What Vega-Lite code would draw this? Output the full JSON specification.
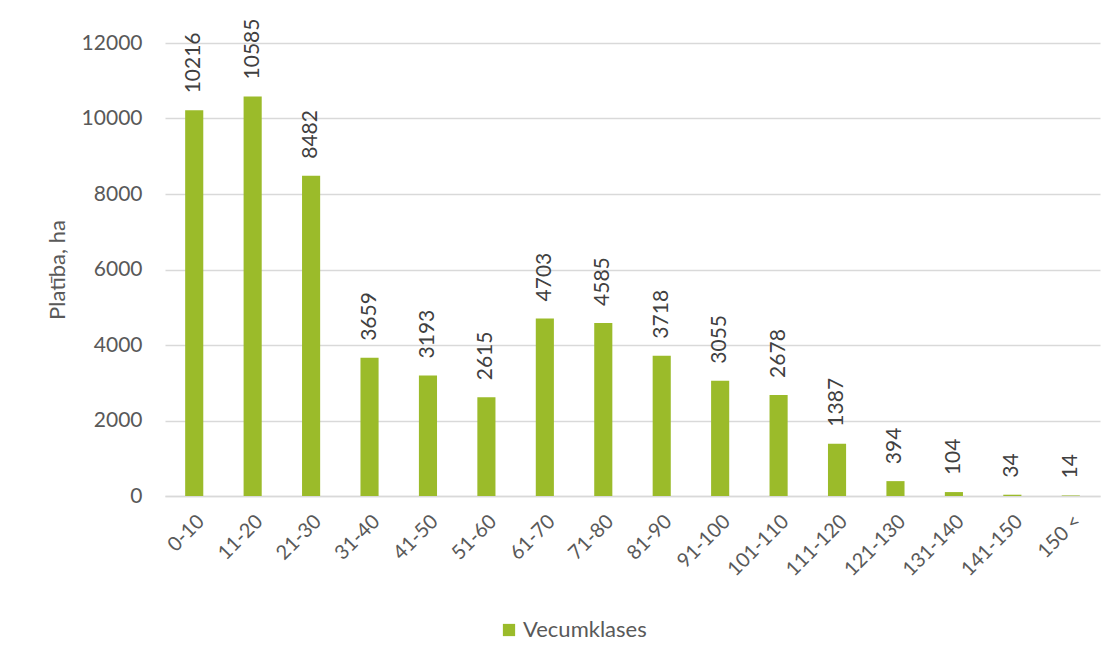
{
  "$schema": "https://vega.github.io/schema/vega-lite/v6.json",
  "autosize": {"type": "none"},
  "padding": {"left": 165, "top": 43, "right": 18, "bottom": 163},
  "width": 935,
  "height": 453,
  "background": "white",
  "config": {
    "font": "Lato",
    "view": {"stroke": null},
    "axis": {"labelColor": "#595959", "titleColor": "#595959", "labelFont": "Lato", "titleFont": "Lato"}
  },
  "data": {
    "values": [
      {"klase": "0-10", "platiba": 10216},
      {"klase": "11-20", "platiba": 10585},
      {"klase": "21-30", "platiba": 8482},
      {"klase": "31-40", "platiba": 3659},
      {"klase": "41-50", "platiba": 3193},
      {"klase": "51-60", "platiba": 2615},
      {"klase": "61-70", "platiba": 4703},
      {"klase": "71-80", "platiba": 4585},
      {"klase": "81-90", "platiba": 3718},
      {"klase": "91-100", "platiba": 3055},
      {"klase": "101-110", "platiba": 2678},
      {"klase": "111-120", "platiba": 1387},
      {"klase": "121-130", "platiba": 394},
      {"klase": "131-140", "platiba": 104},
      {"klase": "141-150", "platiba": 34},
      {"klase": "150 <", "platiba": 14}
    ]
  },
  "encoding": {
    "x": {
      "field": "klase", "type": "nominal", "sort": null,
      "scale": {"paddingInner": 0.69, "paddingOuter": 0.345},
      "axis": {
        "title": null, "labelAngle": -45, "labelFontSize": 20, "labelPadding": 15,
        "ticks": false, "domainColor": "#D9D9D9", "domainWidth": 1.5, "grid": false
      }
    },
    "y": {
      "field": "platiba", "type": "quantitative",
      "scale": {"domain": [0, 12000], "nice": false},
      "axis": {
        "title": "Platība, ha", "titleFontSize": 22, "titleFontWeight": "normal",
        "titlePadding": 12, "labelFontSize": 21, "labelPadding": 23, "format": "d",
        "values": [0, 2000, 4000, 6000, 8000, 10000, 12000],
        "ticks": false, "domain": false, "gridColor": "#D9D9D9", "gridWidth": 1.3
      }
    }
  },
  "layer": [
    {
      "mark": {"type": "bar"},
      "encoding": {
        "color": {
          "datum": "Vecumklases",
          "scale": {"range": ["#9BBB2A"]},
          "legend": {
            "title": null, "orient": "none", "legendX": 333, "legendY": 576,
            "symbolType": "square", "symbolSize": 150, "symbolStrokeWidth": 0,
            "labelFontSize": 22, "labelColor": "#595959", "labelFont": "Lato", "labelOffset": 3
          }
        }
      }
    },
    {
      "mark": {"type": "text", "angle": 270, "align": "left", "baseline": "middle", "dx": 17, "fontSize": 21, "color": "#404040"},
      "encoding": {"text": {"field": "platiba", "type": "quantitative", "format": "d"}}
    }
  ]
}
